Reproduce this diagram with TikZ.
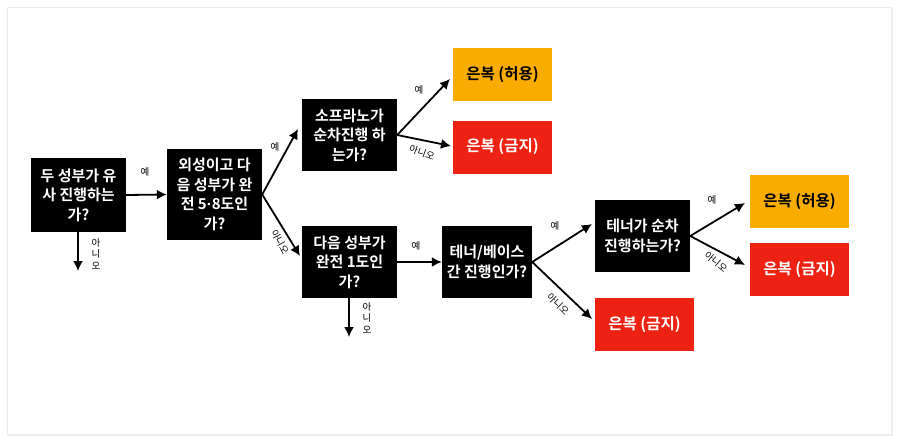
\documentclass[tikz,border=0pt]{standalone}
\usepackage{fontspec}
\newfontfamily\kofont{Noto Sans CJK KR}
\newfontfamily\kobold{Noto Sans CJK KR Bold}
\newfontfamily\dotfont{Liberation Sans}
\newcommand{\middot}{{\dotfont\bfseries ·}}
\usetikzlibrary{arrows.meta}
\definecolor{okorange}{HTML}{FBAC00}
\definecolor{nored}{HTML}{EE2212}
\begin{document}
\begin{tikzpicture}[x=1pt,y=-1pt,
  question/.style={fill=black, text=white, font=\kobold\fontsize{15}{19.5}\selectfont,
    align=center, minimum width=95pt, minimum height=72pt, inner sep=0pt},
  allowed/.style={fill=okorange, text=black, font=\kobold\fontsize{15.5}{19}\selectfont,
    minimum width=99pt, minimum height=53pt, inner sep=0pt},
  banned/.style={fill=nored, text=white, font=\kobold\fontsize{15.5}{19}\selectfont,
    minimum width=99pt, minimum height=53pt, inner sep=0pt},
  flow/.style={line width=1.8pt, -{Latex[length=10pt,width=10pt]}},
  answer/.style={font=\kofont\fontsize{9.5}{10}\selectfont, inner sep=1pt}]

  % Card
  \useasboundingbox (0,0) rectangle (900,442);
  \fill[black!6] (8,9) rectangle (893,436);
  \filldraw[fill=white, draw=black!8] (7,7) rectangle (891,434);

  % Questions
  \node[question, minimum height=74pt] (q1) at (78.5,195) {두 성부가 유\\사 진행하는\\가?};
  \node[question, minimum height=91pt] (q2) at (214.5,194.5) {외성이고 다\\음 성부가 완\\전 5\middot8도인\\가?};
  \node[question] (q3) at (349.5,135) {소프라노가\\순차진행 하\\는가?};
  \node[question] (q4) at (349.5,262) {다음 성부가\\완전 1도인\\가?};
  \node[question, minimum width=90pt] (q5) at (487,262) {테너/베이스\\간 진행인가?};
  \node[question] (q6) at (642.5,236) {테너가 순차\\진행하는가?};

  % Results
  \node[allowed] (r1) at (502.5,74.5) {은복 (허용)};
  \node[banned] (r2) at (502.5,147) {은복 (금지)};
  \node[allowed] (r3) at (799.5,201.5) {은복 (허용)};
  \node[banned] (r4) at (799.5,269.5) {은복 (금지)};
  \node[banned] (r5) at (644.5,324.5) {은복 (금지)};

  % Free ends of the downward arrows
  \coordinate (e1) at (78,271);
  \coordinate (e4) at (349,337);

  % Connectors
  \draw[flow] (q1.east) -- (q2.west);
  \draw[flow] (q1.south -| e1) -- (e1);
  \draw[flow] (q2.east) -- (298,129) coordinate (t3);
  \draw[flow] (q2.east) -- (300,256) coordinate (t4);
  \draw[flow] (q3.east) -- (450,79);
  \draw[flow] (q3.east) -- (451,146);
  \draw[flow] (q4.east) -- (q5.west);
  \draw[flow] (q4.south -| e4) -- (e4);
  \draw[flow] (q5.east) -- (592,224);
  \draw[flow] (q5.east) -- (592,319);
  \draw[flow] (q6.east) -- (745,203);
  \draw[flow] (q6.east) -- (745,265);

  % Answer labels
  \node[answer] (a12) at (145,172) {예};
  \node[answer, align=center, font=\kofont\fontsize{9.5}{11.5}\selectfont] (a1d) at (96,254) {아\\니\\오};
  \node[answer] (a23) at (275,147) {예};
  \node[answer, rotate=-62] (a24) at (280,242) {아니오};
  \node[answer] (a3y) at (419,90) {예};
  \node[answer, rotate=-20] (a3n) at (422,153) {아니오};
  \node[answer] (a45) at (416,246) {예};
  \node[answer, align=center, font=\kofont\fontsize{9.5}{11.5}\selectfont] (a4d) at (367,318) {아\\니\\오};
  \node[answer] (a5y) at (555,226) {예};
  \node[answer, rotate=-45] (a5n) at (558,304) {아니오};
  \node[answer] (a6y) at (712,200) {예};
  \node[answer, rotate=-40] (a6n) at (716,262) {아니오};
\end{tikzpicture}
\end{document}
